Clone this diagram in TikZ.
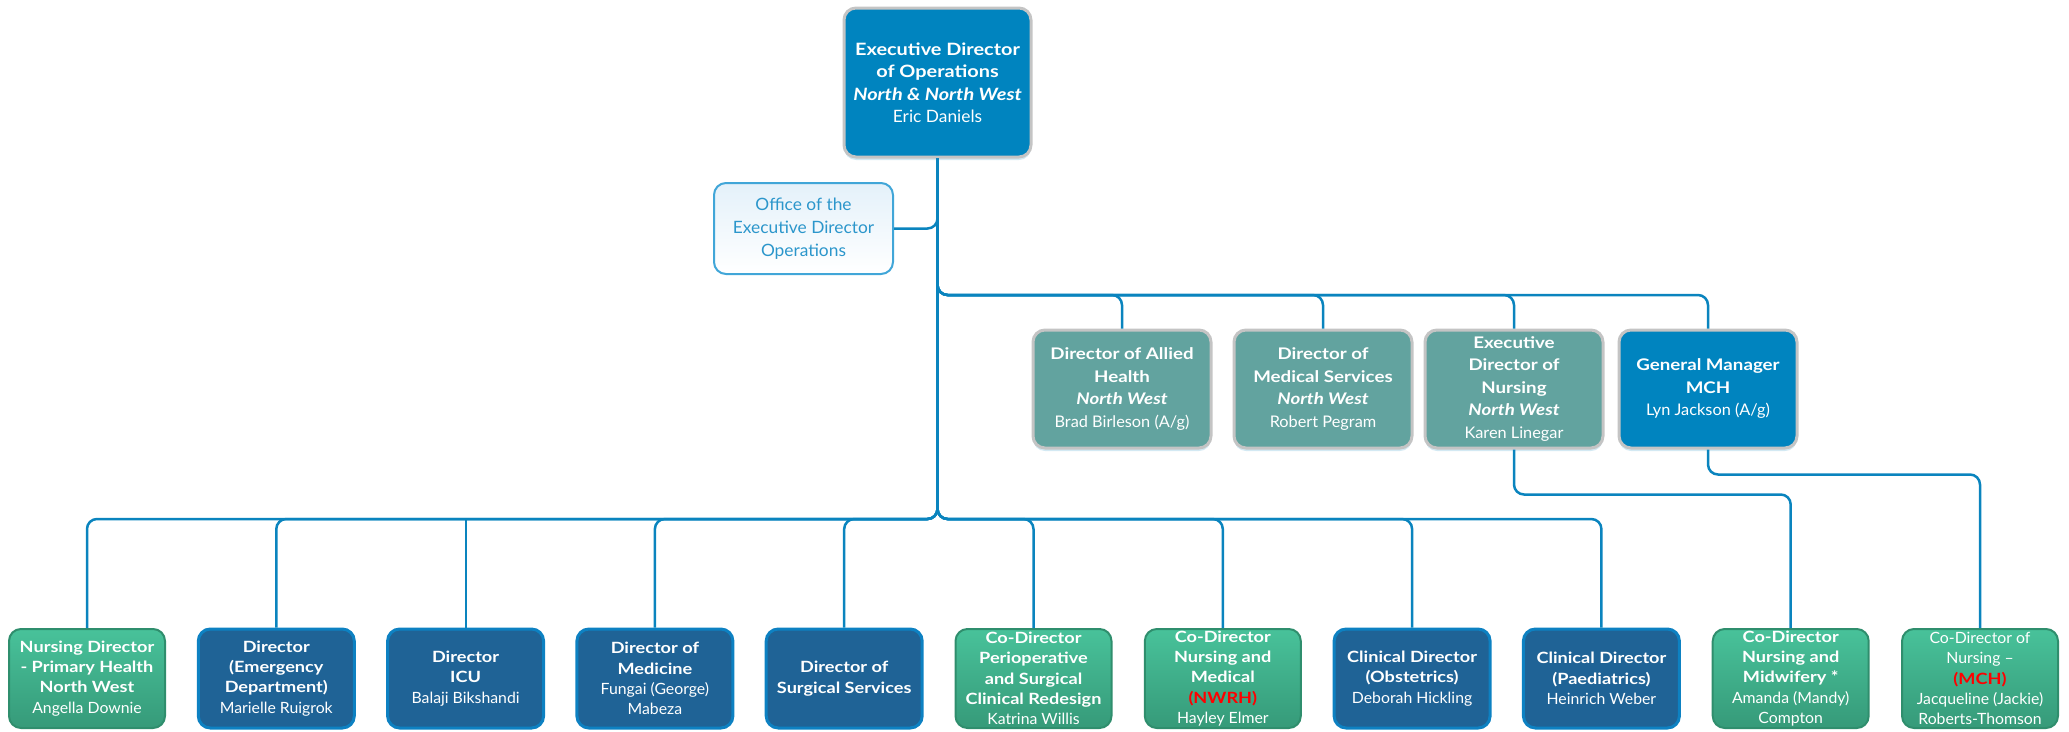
\documentclass[tikz,border=0pt]{standalone}
\usepackage{fontspec}
\setmainfont{Lato}[BoldFeatures={FakeStretch=1.17}, BoldItalicFeatures={FakeStretch=1.17}, UprightFeatures={FakeStretch=1.02}]
\usetikzlibrary{shadows}
\definecolor{connc}{HTML}{0A84BE}
\definecolor{topblue}{HTML}{0084BF}
\definecolor{tealc}{HTML}{62A39F}
\definecolor{dblue}{HTML}{1F6396}
\definecolor{dblueb}{HTML}{0D81C2}
\definecolor{gtop}{HTML}{48C29A}
\definecolor{gbot}{HTML}{369A79}
\definecolor{gbord}{HTML}{2F8E6D}
\definecolor{greyb}{HTML}{C4C4C4}
\definecolor{offb}{HTML}{41A6D8}
\definecolor{offt}{HTML}{2B96CB}
\definecolor{offfill}{HTML}{E4F1FA}
\definecolor{redt}{HTML}{FF0000}
\begin{document}
\begin{tikzpicture}[x=1pt,y=-1pt,
  box/.style={rounded corners=12pt, align=center, inner sep=0pt, text=white},
  shad/.style={drop shadow={shadow xshift=0pt, shadow yshift=-3pt, opacity=0.18, fill=connc}},
  topbox/.style={box, shad, fill=topblue, draw=greyb, line width=3pt, minimum width=187pt, minimum height=149pt, font=\fontsize{17}{22.5}\selectfont},
  upbox/.style={box, shad, fill=tealc, draw=greyb, line width=3pt, minimum width=178pt, minimum height=118pt, font=\fontsize{16}{22.5}\selectfont},
  gmbox/.style={upbox, fill=topblue},
  lowblue/.style={box, fill=dblue, draw=dblueb, line width=3pt, minimum width=156pt, minimum height=99pt, font=\fontsize{15.5}{20.3}\selectfont},
  lowgreen/.style={box, top color=gtop, bottom color=gbot, draw=gbord, line width=2pt, minimum width=156pt, minimum height=99pt, font=\fontsize{15.5}{20.3}\selectfont},
  officebox/.style={box, top color=offfill, bottom color=white, draw=offb, line width=2pt, text=offt, minimum width=179pt, minimum height=91pt, font=\fontsize{17}{23}\selectfont},
  conn/.style={draw=connc, line width=2.5pt, rounded corners=10pt},
  connthin/.style={draw=connc, line width=2pt, rounded corners=10pt}
]
\useasboundingbox (0,0) rectangle (2069,731);
% top
\node[topbox] (top) at (937.5,82.5) {\textbf{Executive Director}\\\textbf{of Operations}\\\textbf{\textit{North \& North West}}\\Eric Daniels};
\node[officebox] (office) at (803.5,228.5) {Office of the\\Executive Director\\Operations};
% upper row
\node[upbox] (ah) at (1122,389) {\textbf{Director of Allied}\\\textbf{Health}\\\textbf{\textit{North West}}\\Brad Birleson (A/g)};
\node[upbox] (ms) at (1323,389) {\textbf{Director of}\\\textbf{Medical Services}\\\textbf{\textit{North West}}\\Robert Pegram};
\node[upbox] (en) at (1514,389) {\textbf{Executive}\\\textbf{Director of}\\\textbf{Nursing}\\\textbf{\textit{North West}}\\Karen Linegar};
\node[gmbox] (gm) at (1708,389) {\textbf{General Manager}\\\textbf{MCH}\\Lyn Jackson (A/g)};
% lower row
\node[lowgreen] (c1) at (87,678.5) {\textbf{Nursing Director}\\\textbf{- Primary Health}\\\textbf{North West}\\Angella Downie};
\node[lowblue] (c2) at (276.3,678.5) {\textbf{Director}\\\textbf{(Emergency}\\\textbf{Department)}\\Marielle Ruigrok};
\node[lowblue] (c3) at (465.6,678.5) {\textbf{Director}\\\textbf{ICU}\\Balaji Bikshandi};
\node[lowblue] (c4) at (654.9,678.5) {\textbf{Director of}\\\textbf{Medicine}\\Fungai (George)\\Mabeza};
\node[lowblue] (c5) at (844.2,678.5) {\textbf{Director of}\\\textbf{Surgical Services}};
\node[lowgreen] (c6) at (1033.5,678.5) {\textbf{Co-Director}\\\textbf{Perioperative}\\\textbf{and Surgical}\\\textbf{Clinical Redesign}\\Katrina Willis};
\node[lowgreen] (c7) at (1222.8,678.5) {\textbf{Co-Director}\\\textbf{Nursing and}\\\textbf{Medical}\\\textcolor{redt}{\textbf{(NWRH)}}\\Hayley Elmer};
\node[lowblue] (c8) at (1412.1,678.5) {\textbf{Clinical Director}\\\textbf{(Obstetrics)}\\Deborah Hickling};
\node[lowblue] (c9) at (1601.4,678.5) {\textbf{Clinical Director}\\\textbf{(Paediatrics)}\\Heinrich Weber};
\node[lowgreen] (c10) at (1790.7,678.5) {\textbf{Co-Director}\\\textbf{Nursing and}\\\textbf{Midwifery *}\\Amanda (Mandy)\\Compton};
\node[lowgreen] (c11) at (1980,678.5) {Co-Director of\\Nursing --\\\textcolor{redt}{\textbf{(MCH)}}\\Jacqueline (Jackie)\\Roberts-Thomson};
% bus points
\coordinate (ub) at (937.5,295);
\coordinate (lb) at (937.5,519);
% connectors
\draw[conn] (top.south) |- (office.east);
\draw[conn] (top.south) -- (ub) -| (ah.north);
\draw[conn] (top.south) -- (ub) -| (ms.north);
\draw[conn] (top.south) -- (ub) -| (en.north);
\draw[conn] (top.south) -- (ub) -| (gm.north);
\foreach \c in {c1,c2,c4,c5,c6,c7,c8,c9}{
  \draw[conn] (top.south) -- (lb) -| (\c.north);
}
\draw[connthin] (c3.north |- lb) -- (c3.north);
\draw[conn] (en.south) -- ++(0,45) -| (c10.north);
\draw[conn] (gm.south) -- ++(0,25) -| (c11.north);
\end{tikzpicture}
\end{document}
